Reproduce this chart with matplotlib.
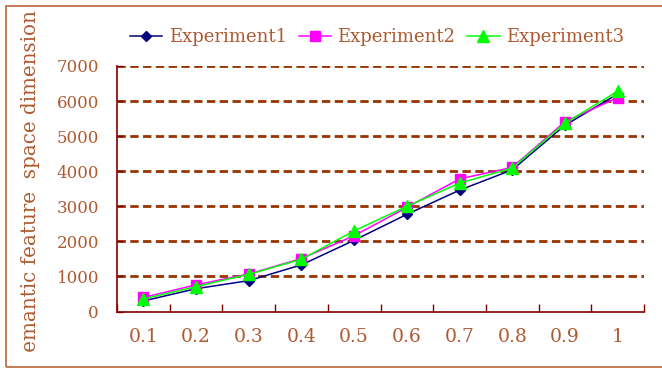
import numpy as np
import matplotlib.pyplot as plt
from matplotlib.patches import Rectangle
from matplotlib.ticker import FixedLocator, NullFormatter
from matplotlib.transforms import Bbox, TransformedBbox

# 实验数据
x_labels = ['0.1', '0.2', '0.3', '0.4', '0.5', '0.6', '0.7', '0.8', '0.9', '1']
exp1 = [300, 650, 880, 1330, 2030, 2770, 3460, 4040, 5310, 6200]
exp2 = [400, 760, 1070, 1510, 2160, 2970, 3780, 4110, 5410, 6100]
exp3 = [360, 710, 1060, 1490, 2300, 3000, 3660, 4090, 5370, 6280]
y_ticks = [0, 1000, 2000, 3000, 4000, 5000, 6000, 7000]

txt_color = '#AE5A30'
axis_color = '#800000'
grid_color = '#993300'
font = 'DejaVu Serif'

fig = plt.figure(figsize=(6.62, 3.69), dpi=100)
ax = fig.add_axes([117 / 662, 1 - 311.5 / 369, 527 / 662, 245.5 / 369])

pos = np.arange(len(x_labels))
ax.plot(pos, exp1, color='#000080', marker='D', markersize=5, lw=1.1, label='Experiment1', zorder=3)
ax.plot(pos, exp2, color='#FF00FF', marker='s', markersize=7, lw=1.1, label='Experiment2', zorder=4)
ax.plot(pos, exp3, color='#00FF00', marker='^', markersize=8, lw=1.1, label='Experiment3', zorder=5)

ax.set_xlim(-0.5, len(x_labels) - 0.5)
ax.set_ylim(0, 7000)

# 横轴：刻度线在类别边界，标签在类别中心
ax.xaxis.set_major_locator(FixedLocator(np.arange(-0.5, len(x_labels), 1.0)))
ax.xaxis.set_major_formatter(NullFormatter())
ax.xaxis.set_minor_locator(FixedLocator(pos))
ax.set_xticklabels(x_labels, minor=True)
ax.tick_params(axis='x', which='major', direction='in', length=6, width=1, color=axis_color)
ax.tick_params(axis='x', which='minor', length=0, pad=12, labelsize=13.5, labelcolor=txt_color)

ax.set_yticks(y_ticks)
ax.tick_params(axis='y', direction='in', length=4, width=1, color=axis_color,
               pad=13, labelsize=12, labelcolor=txt_color)
for label in ax.get_xticklabels(minor=True) + ax.get_yticklabels():
    label.set_fontname(font)

for val in y_ticks[1:]:
    ax.axhline(val, color=grid_color, lw=2, linestyle=(0, (3, 1.6)), zorder=1)

for side in ['top', 'right']:
    ax.spines[side].set_visible(False)
for side in ['left', 'bottom']:
    ax.spines[side].set_color(axis_color)
    ax.spines[side].set_linewidth(1.2)

leg = fig.legend(loc='center', bbox_to_anchor=(377 / 662, 1 - 37 / 369), ncol=3, frameon=False,
                 handlelength=1.8, handletextpad=0.35, columnspacing=0.65,
                 prop={'family': font, 'size': 13})
for t in leg.get_texts():
    t.set_color(txt_color)

# 纵轴标题，超出标题框的部分被裁掉
ylab = fig.text(31 / 662, 1 - 10 / 369, 'semantic feature  space dimension', rotation=90,
                ha='center', va='top', color=txt_color, fontsize=14.3, fontname=font)
ylab.set_clip_box(TransformedBbox(Bbox([[0, 1 - 352 / 369], [1, 1 - 8 / 369]]), fig.transFigure))
ylab.set_clip_on(True)

# 外边框
fig.patches.append(Rectangle((6 / 662, 1 - 367 / 369), 1.2, 361 / 369, transform=fig.transFigure,
                             fill=False, edgecolor='#B8683A', lw=1.2))

plt.savefig('out.png', dpi=100)
